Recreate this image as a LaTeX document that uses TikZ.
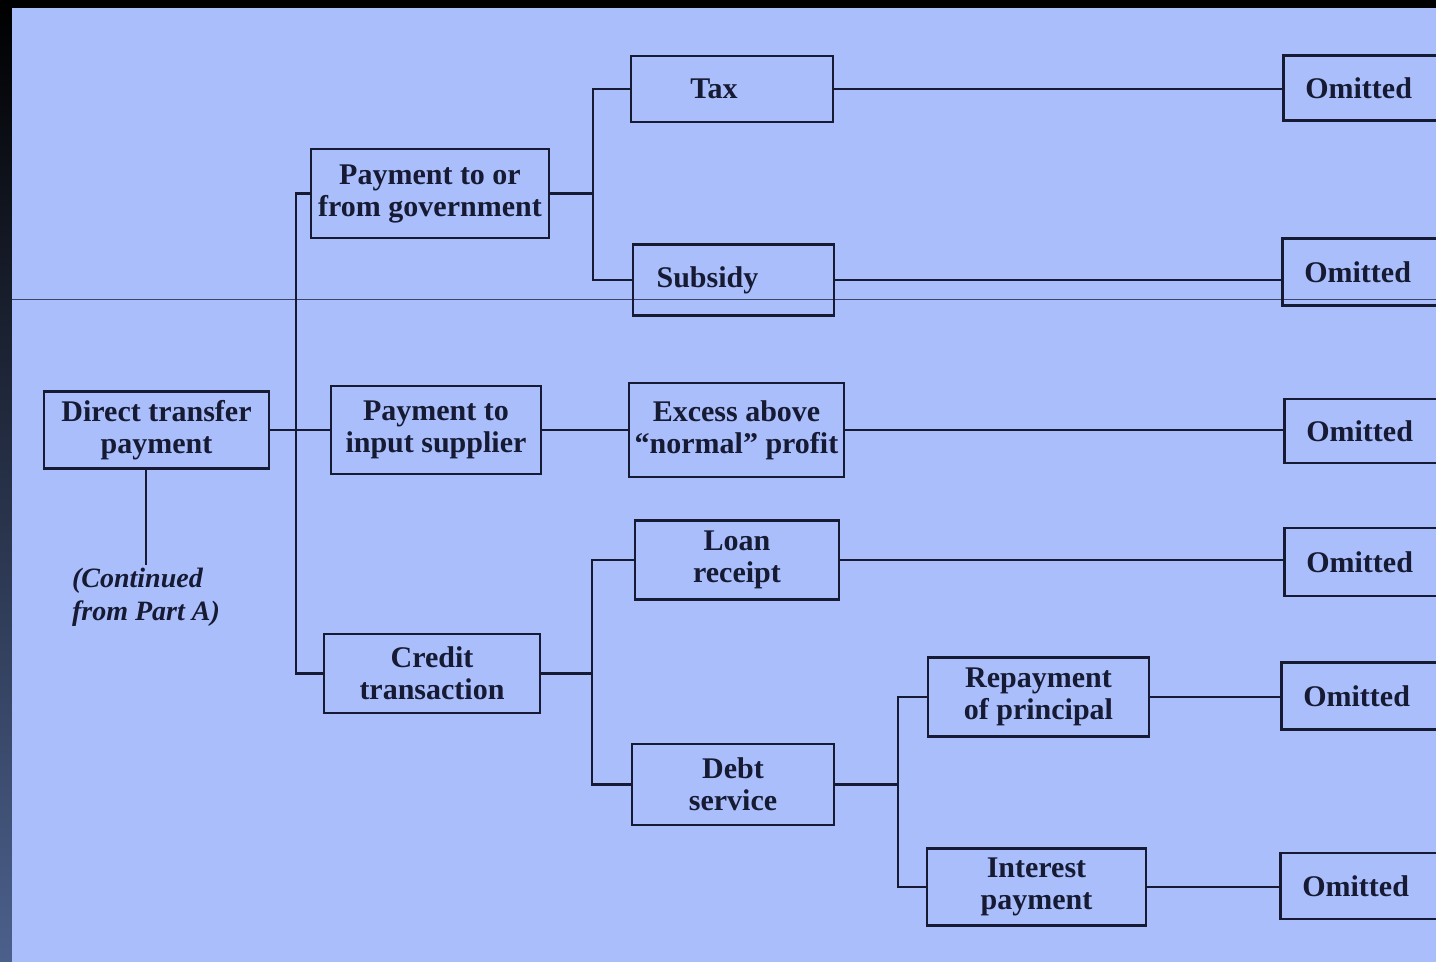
\documentclass[tikz,border=0pt]{standalone}
\usepackage{fontspec}
\setmainfont{Liberation Serif}
\definecolor{bgblue}{RGB}{170,190,252}
\definecolor{linec}{RGB}{22,26,50}
\definecolor{slate}{RGB}{76,96,140}
\definecolor{scanline}{RGB}{60,70,100}
\begin{document}
\begin{tikzpicture}[x=0.5pt,y=-0.5pt,
  box/.style={draw=linec, line width=1.3pt, rectangle, inner sep=0pt, align=center,
    font=\fontsize{15}{16}\selectfont\bfseries, text=linec},
  omit/.style={box, anchor=west, align=left, text width=88pt, inner xsep=11pt, minimum height=#1},
  conn/.style={draw=linec, line width=1.1pt}]
\useasboundingbox (0,0) rectangle (1436,962);
\clip (0,0) rectangle (1436,962);
% background
\fill[black] (0,0) rectangle (1436,962);
\shade[top color=black, middle color=black!90!slate, bottom color=slate] (0,0) rectangle (12,962);
\fill[bgblue] (12,8) rectangle (1436,962);
\draw[scanline, line width=0.5pt] (12,300) -- (1436,300);

% level 0
\node[box, minimum width=112.5pt, minimum height=38.5pt] (dtp) at (156.5,430) {Direct transfer\\payment};
\node[align=left, inner sep=1pt, font=\fontsize{14}{16.5}\selectfont\bfseries\itshape, text=linec] (cont) at (146,597) {(Continued\\from Part A)};

% level 1
\node[box, minimum width=119pt, minimum height=44.5pt] (ptg) at (430,193.5) {Payment to or\\from government};
\node[box, minimum width=105pt, minimum height=44pt] (pis) at (436,430) {Payment to\\input supplier};
\node[box, minimum width=108pt, minimum height=39.5pt] (ct) at (432,673.5) {Credit\\transaction};

% level 2
\node[box, minimum width=101pt, minimum height=33pt] (tax) at (732,89) {Tax\hspace*{18pt}};
\node[box, minimum width=100.5pt, minimum height=35.5pt] (sub) at (733.5,280) {Subsidy\hspace*{26pt}};
\node[box, minimum width=107.5pt, minimum height=47pt] (exc) at (736.5,430) {Excess above\\``normal'' profit};
\node[box, minimum width=102pt, minimum height=39.5pt] (loan) at (737,560) {Loan\\receipt};
\node[box, minimum width=101pt, minimum height=40.5pt] (debt) at (733,784.5) {Debt\\service};

% level 3
\node[box, minimum width=110.5pt, minimum height=39.5pt] (rep) at (1038.5,697) {Repayment\\of principal};
\node[box, minimum width=109.5pt, minimum height=38.5pt] (int) at (1036.5,887) {Interest\\payment};

% omitted
\node[omit=32.5pt] (om1) at (1282,88) {Omitted};
\node[omit=33.5pt] (om2) at (1281,272) {Omitted};
\node[omit=32pt]   (om3) at (1283,431) {Omitted};
\node[omit=34pt]   (om4) at (1283,562) {Omitted};
\node[omit=33.5pt] (om5) at (1280,696) {Omitted};
\node[omit=33pt]   (om6) at (1279,886) {Omitted};

% connectors
\draw[conn] (146,0 |- dtp.south) -- (146,0 |- cont.north);
\draw[conn] (dtp.east) -- (pis.west);
\draw[conn] (ptg.west) -- ++(-14,0) coordinate (t0) |- (ct.west);

\draw[conn] (ptg.east) -- ++(43,0) coordinate (b1);
\draw[conn] (tax.west) -| (b1) |- (sub.west);
\draw[conn] (pis.east) -- (exc.west);
\draw[conn] (ct.east) -- ++(51,0) coordinate (b2);
\draw[conn] (loan.west) -| (b2) |- (debt.west);
\draw[conn] (debt.east) -- ++(63,0) coordinate (b3);
\draw[conn] (rep.west) -| (b3) |- (int.west);

\draw[conn] (tax.east) -- (tax.east -| om1.west);
\draw[conn] (sub.east) -- (sub.east -| om2.west);
\draw[conn] (exc.east) -- (exc.east -| om3.west);
\draw[conn] (loan.east) -- (loan.east -| om4.west);
\draw[conn] (rep.east) -- (rep.east -| om5.west);
\draw[conn] (int.east) -- (int.east -| om6.west);
\end{tikzpicture}
\end{document}
